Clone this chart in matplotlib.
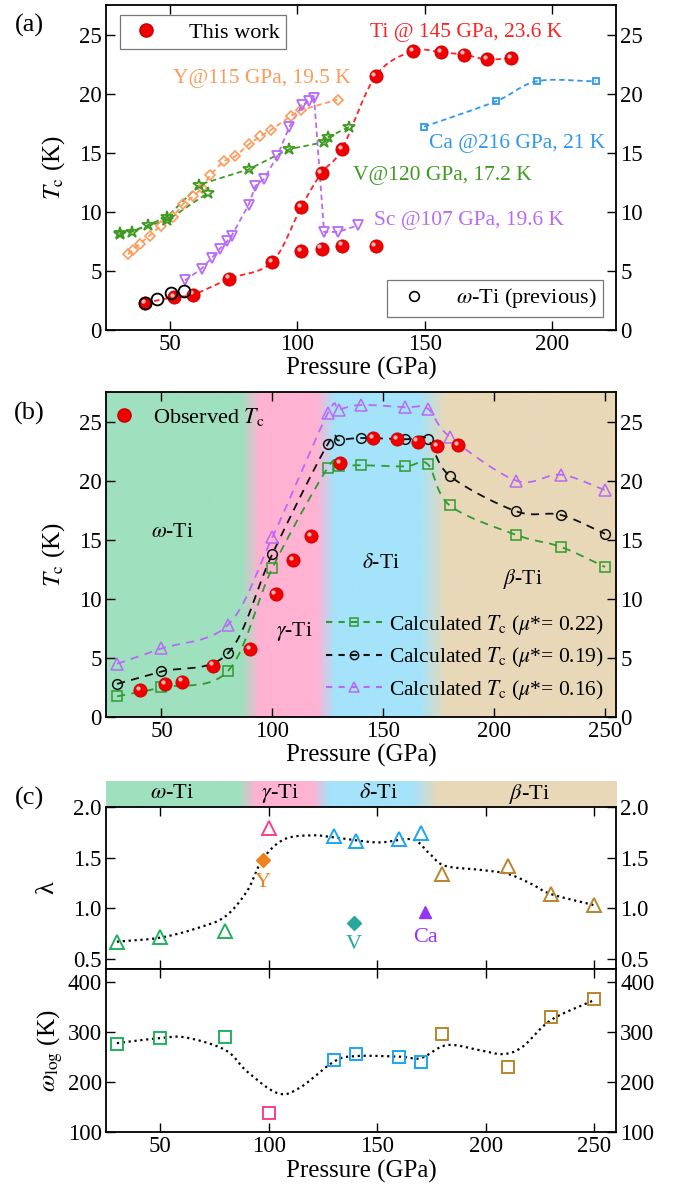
import numpy as np
import matplotlib
matplotlib.use('Agg')
import matplotlib.pyplot as plt
import matplotlib.transforms as mtransforms
from matplotlib.colors import to_rgb
from matplotlib.lines import Line2D

plt.rcParams['font.family'] = 'serif'
plt.rcParams['font.serif'] = ['Liberation Serif', 'DejaVu Serif']
plt.rcParams['mathtext.fontset'] = 'stix'
plt.rcParams['font.size'] = 15

# ---------------- data: panel (a) ----------------
ti_p = [40.4, 51.6, 59.2, 73.4, 90.1, 101.5, 109.5, 117.5, 130.7, 145.4, 156.3, 165.5, 174.3, 183.8]
ti_tc = [2.3, 2.8, 3.0, 4.35, 5.75, 10.4, 13.3, 15.3, 21.5, 23.6, 23.5, 23.3, 22.9, 23.0]
ti_low_p = [101.5, 109.5, 117.5, 130.7]
ti_low_tc = [6.65, 6.9, 7.15, 7.1]
prev_p = [40.4, 44.9, 50.6, 55.7]
prev_tc = [2.3, 2.65, 3.1, 3.3]

y_p = [33.6, 35.5, 38.2, 42.1, 46.4, 51.3, 55.3, 59.2, 62.5, 65.8, 71.1, 75.7, 80.9, 85.5, 89.5, 97.4, 101.3, 115.8]
y_tc = [6.4, 6.8, 7.3, 8.0, 8.8, 9.6, 10.7, 11.3, 12.0, 13.1, 14.3, 14.7, 15.7, 16.4, 16.9, 18.1, 18.6, 19.5]

v_p = [30.3, 35.0, 41.6, 49.1, 61.6, 80.9, 96.7, 110.5, 111.9, 120.4]
v_tc = [8.2, 8.3, 8.9, 9.6, 12.3, 13.6, 15.3, 15.9, 16.3, 17.2]
v2_p = [30.3, 49.1, 64.9]
v2_tc = [8.1, 9.3, 11.6]

sc_p = [55.9, 62.5, 66.4, 69.7, 72.4, 74.3, 80.9, 83.6, 87.0, 92.1, 96.9, 101.8, 104.6, 106.6, 110.5, 116.0, 123.7]
sc_tc = [4.2, 5.2, 6.1, 6.9, 7.5, 8.0, 10.6, 12.2, 12.8, 14.7, 17.2, 19.0, 19.35, 19.6, 8.3, 8.3, 8.85]

ca_p = [149.7, 177.8, 194.0, 217.1]
ca_tc = [17.2, 19.35, 21.05, 21.05]

# ---------------- data: panel (b) ----------------
calc_p = [30, 50, 80, 100, 125, 130, 140, 160, 170, 180, 210, 230, 250]
tc_mu22 = [1.75, 2.5, 3.9, 12.6, 21.1, 21.2, 21.3, 21.2, 21.4, 17.9, 15.4, 14.4, 12.7]
tc_mu19 = [2.8, 3.85, 5.4, 13.8, 23.1, 23.4, 23.6, 23.5, 23.5, 20.4, 17.4, 17.1, 15.5]
tc_mu16 = [4.5, 5.8, 7.8, 15.2, 25.7, 26.0, 26.4, 26.2, 26.1, 23.7, 20.0, 20.5, 19.2]

# ---------------- data: panel (c) ----------------
lam_w_p, lam_w = [30, 50, 80], [0.67, 0.72, 0.78]
lam_g_p, lam_g = [100], [1.79]
lam_d_p, lam_d = [130, 140, 160, 170], [1.71, 1.66, 1.68, 1.74]
lam_b_p, lam_b = [180, 210, 230, 250], [1.34, 1.42, 1.14, 1.03]
lam_fit_p = [30, 50, 68, 80, 90, 97, 107, 120, 130, 150, 166, 174, 181, 197, 210, 221, 230, 250]
lam_fit = [0.67, 0.71, 0.81, 0.92, 1.17, 1.48, 1.68, 1.72, 1.70, 1.65, 1.68, 1.54, 1.42, 1.38, 1.34, 1.24, 1.14, 1.03]
lam_y = (97.1, 1.48)
lam_v = (139.3, 0.85)
lam_ca = (172.0, 0.96)

wlog_w_p, wlog_w = [30, 50, 80], [276, 287, 289]
wlog_g_p, wlog_g = [100], [137]
wlog_d_p, wlog_d = [130, 140, 160, 170], [243, 255, 250, 240]
wlog_b_p, wlog_b = [180, 210, 230, 250], [295, 230, 330, 365]
wlog_fit_p = [30, 50, 62, 80, 90, 104, 114, 130, 140, 160, 170, 182, 197, 208, 217, 230, 250]
wlog_fit = [277, 287, 288, 263, 220, 177, 187, 240, 251, 250, 247, 273, 263, 255, 270, 323, 363]

phase_names = [r'$\omega$-Ti', r'$\gamma$-Ti', r'$\delta$-Ti', r'$\beta$-Ti']

TICK = 16.5
LAB = 18
TXT = 15.5


def smooth(x, y, n=24):
    # Catmull-Rom curve through the points
    x = np.asarray(x, float)
    y = np.asarray(y, float)
    px = np.concatenate([[2 * x[0] - x[1]], x, [2 * x[-1] - x[-2]]])
    py = np.concatenate([[2 * y[0] - y[1]], y, [2 * y[-1] - y[-2]]])
    t = np.linspace(0, 1, n, endpoint=False)
    xs, ys = [], []
    for i in range(1, len(px) - 2):
        for arr, out in ((px, xs), (py, ys)):
            p0, p1, p2, p3 = arr[i - 1], arr[i], arr[i + 1], arr[i + 2]
            out.append(0.5 * (2 * p1 + (-p0 + p2) * t + (2 * p0 - 5 * p1 + 4 * p2 - p3) * t ** 2
                              + (-p0 + 3 * p1 - 3 * p2 + p3) * t ** 3))
    xs.append([x[-1]])
    ys.append([y[-1]])
    return np.concatenate(xs), np.concatenate(ys)


def spheres(ax, x, y, ms=9.5, zorder=5):
    ax.plot(x, y, 'o', ms=ms, mfc='#f00000', mec='#c80000', mew=0.6, zorder=zorder)
    off = mtransforms.offset_copy(ax.transData, fig=fig, x=-ms * 0.17, y=ms * 0.17, units='points')
    ax.plot(x, y, 'o', ms=ms * 0.32, mfc='#ffb8b8', mec='none', transform=off, zorder=zorder + 0.1)


def phase_bg(ax, x0, x1, y0, y1):
    stops = [25, 86, 94, 120, 128, 166, 178, 260]
    cols = ['#9fe0bf', '#9fe0bf', '#ffb2d2', '#ffb2d2', '#a4e3fa', '#a4e3fa', '#e8d8b8', '#e8d8b8']
    rgb = np.array([to_rgb(c) for c in cols])
    xx = np.linspace(x0, x1, 600)
    img = np.stack([np.interp(xx, stops, rgb[:, k]) for k in range(3)], axis=-1)[None, :, :]
    ax.imshow(img, extent=[x0, x1, y0, y1], aspect='auto', zorder=0, interpolation='bilinear')


def style_axes(ax):
    ax.tick_params(direction='in', length=6.5, width=1.0, top=True, right=True,
                   labelright=True, labelsize=TICK, pad=3)
    for s in ax.spines.values():
        s.set_linewidth(1.3)


fig = plt.figure(figsize=(6.81, 11.95), dpi=100)
W = 0.749

# ================= panel (a) =================
ax = fig.add_axes([0.1557, 0.7238, W, 0.272])
c_ti, c_y, c_v, c_sc, c_ca = '#ff2222', '#ff9a5c', '#3f9a22', '#b86af6', '#3097f0'

sx, sy = smooth(ti_p, ti_tc)
ax.plot(sx, sy, '--', color=c_ti, lw=1.3, dashes=(3, 2), zorder=3)
ax.plot(y_p, y_tc, '--', color=c_y, lw=1.3, dashes=(3, 2), zorder=2)
ax.plot(y_p, y_tc, 'D', ms=5.5, mfc='none', mec=c_y, mew=1.2, zorder=3)
ax.plot(v_p, v_tc, '--', color=c_v, lw=1.3, dashes=(3, 2), zorder=2)
ax.plot(v2_p, v2_tc, '--', color=c_v, lw=1.3, dashes=(3, 2), zorder=2)
ax.plot(v_p + v2_p, v_tc + v2_tc, '*', ms=9, mfc='none', mec=c_v, mew=1.3, zorder=3)
ax.plot(sc_p, sc_tc, '--', color=c_sc, lw=1.3, dashes=(3, 2), zorder=2)
ax.plot(sc_p, sc_tc, 'v', ms=7.5, mfc='none', mec=c_sc, mew=1.3, zorder=3)
cx, cy = smooth(ca_p, ca_tc)
ax.plot(cx, cy, '--', color=c_ca, lw=1.3, dashes=(3, 2), zorder=2)
ax.plot(ca_p, ca_tc, 's', ms=5, mfc='none', mec=c_ca, mew=1.3, zorder=3)
spheres(ax, ti_p, ti_tc)
spheres(ax, ti_low_p, ti_low_tc)
ax.plot(prev_p, prev_tc, 'o', ms=8.5, mfc='none', mec='black', mew=1.3, zorder=6)

ax.text(166, 25.2, 'Ti @ 145 GPa, 23.6 K', color=c_ti, ha='center', va='center', fontsize=TXT)
ax.text(86, 21.3, 'Y@115 GPa, 19.5 K', color=c_y, ha='center', va='center', fontsize=TXT)
ax.text(186, 15.8, 'Ca @216 GPa, 21 K', color=c_ca, ha='center', va='center', fontsize=TXT)
ax.text(157, 13.1, 'V@120 GPa, 17.2 K', color=c_v, ha='center', va='center', fontsize=TXT)
ax.text(167.5, 9.3, 'Sc @107 GPa, 19.6 K', color=c_sc, ha='center', va='center', fontsize=TXT)

ax.set_xlim(25, 225)
ax.set_ylim(0, 27.5)
ax.set_xticks([50, 100, 150, 200])
ax.set_yticks([0, 5, 10, 15, 20, 25])
ax.set_ylabel(r'$T_{\rm c}$ (K)', fontsize=LAB, labelpad=9)
ax.set_xlabel('Pressure (GPa)', fontsize=LAB, labelpad=1)
style_axes(ax)

h1 = Line2D([], [], ls='none', marker='o', ms=9.5, mfc='#f00000', mec='#c80000')
leg1 = ax.legend([h1], ['This work'], loc='upper left', bbox_to_anchor=(0.027, 0.968),
                 borderaxespad=0, fancybox=False, edgecolor='#555555', fontsize=TXT + 0.5,
                 handletextpad=1.0, borderpad=0.3, handlelength=1.8)
leg1.get_frame().set_linewidth(0.9)
ax.add_artist(leg1)
h2 = Line2D([], [], ls='none', marker='o', ms=7, mfc='none', mec='black', mew=1.2)
leg2 = ax.legend([h2], [r'$\omega$-Ti (previous)'], loc='lower right', bbox_to_anchor=(0.975, 0.04),
                 borderaxespad=0, fancybox=False, edgecolor='#555555', fontsize=TXT + 0.5,
                 handletextpad=1.0, borderpad=0.3, handlelength=1.8)
leg2.get_frame().set_linewidth(0.9)

# ================= panel (b) =================
ax = fig.add_axes([0.1557, 0.4000, W, 0.272])
phase_bg(ax, 25, 255, 0, 27.5)
c22, c19, c16 = '#2f9a2f', '#111111', '#b86af6'
for vals, col, mk, ms in ((tc_mu22, c22, 's', 6.5), (tc_mu19, c19, 'o', 7), (tc_mu16, c16, '^', 8)):
    bx, by = smooth(calc_p, vals)
    ax.plot(bx, by, '--', color=col, lw=1.3, dashes=(4.5, 3.5), zorder=2)
    ax.plot(calc_p, vals, mk, ms=ms, mfc='none', mec=col, mew=1.1, zorder=3)
spheres(ax, ti_p, ti_tc)
ax.text(55, 15.6, phase_names[0], ha='center', va='center', fontsize=TXT)
ax.text(110, 7.2, phase_names[1], ha='center', va='center', fontsize=TXT)
ax.text(149, 13.0, phase_names[2], ha='center', va='center', fontsize=TXT)
ax.text(213, 11.7, phase_names[3], ha='center', va='center', fontsize=TXT)
ax.set_xlim(25, 255)
ax.set_ylim(0, 27.5)
ax.set_xticks([50, 100, 150, 200, 250])
ax.set_yticks([0, 5, 10, 15, 20, 25])
ax.set_ylabel(r'$T_{\rm c}$ (K)', fontsize=LAB, labelpad=9)
ax.set_xlabel('Pressure (GPa)', fontsize=LAB, labelpad=1)
style_axes(ax)

leg3 = ax.legend([h1], [r'Observed $T_{\rm c}$'], loc='upper left', bbox_to_anchor=(-0.012, 0.985),
                 frameon=False, fontsize=TXT + 0.5, handletextpad=0.6, handlelength=1.4, borderaxespad=0)
ax.add_artist(leg3)
hands = [Line2D([], [], ls='--', dashes=(3, 3), color=c22, marker='s', ms=6, mfc='none', mew=1.1),
         Line2D([], [], ls='--', dashes=(3, 3), color=c19, marker='o', ms=6, mfc='none', mew=1.1),
         Line2D([], [], ls='--', dashes=(3, 3), color=c16, marker='^', ms=7, mfc='none', mew=1.1)]
labs = [r'Calculated $T_{\rm c}$ ($\mu$*= 0.22)', r'Calculated $T_{\rm c}$ ($\mu$*= 0.19)',
        r'Calculated $T_{\rm c}$ ($\mu$*= 0.16)']
ax.legend(hands, labs, loc='lower right', bbox_to_anchor=(1.005, 0.0), frameon=False, fontsize=TXT,
          handlelength=2.6, handletextpad=0.3, labelspacing=0.4, borderaxespad=0.3)

# ================= panel (c) =================
band = fig.add_axes([0.1557, 0.3247, W, 0.0220])
phase_bg(band, 25, 260, 0, 1)
band.set_xlim(25, 260)
band.set_ylim(0, 1)
band.set_xticks([])
band.set_yticks([])
for s in band.spines.values():
    s.set_visible(False)
for px_, nm in zip([55.4, 105.2, 150.5, 220.3], phase_names):
    band.text(px_, 0.5, nm, ha='center', va='center', fontsize=TXT + 0.5)

cw, cg, cd, cb = '#20b35e', '#ff3d8c', '#1aa6f0', '#b8862c'

axl = fig.add_axes([0.1557, 0.1891, W, 0.1356])
lx, ly = smooth(lam_fit_p, lam_fit)
axl.plot(lx, ly, ':', color='black', lw=1.6, zorder=2)
for xs_, ys_, col in ((lam_w_p, lam_w, cw), (lam_g_p, lam_g, cg), (lam_d_p, lam_d, cd), (lam_b_p, lam_b, cb)):
    axl.plot(xs_, ys_, '^', ms=10, mfc='none', mec=col, mew=1.4, zorder=3)
axl.plot(*lam_y, 'D', ms=7.5, color='#f0821e', zorder=4)
axl.text(lam_y[0], 1.25, 'Y', color='#f0821e', ha='center', va='center', fontsize=TXT + 0.5)
axl.plot(*lam_v, 'D', ms=7.5, color='#26a89c', zorder=4)
axl.text(lam_v[0], 0.64, 'V', color='#26a89c', ha='center', va='center', fontsize=TXT + 0.5)
axl.plot(*lam_ca, '^', ms=9, color='#9434f5', zorder=4)
axl.text(lam_ca[0], 0.71, 'Ca', color='#9434f5', ha='center', va='center', fontsize=TXT + 0.5)
axl.set_xlim(25, 260)
axl.set_ylim(0.4, 2.0)
axl.set_xticks([50, 100, 150, 200, 250])
axl.set_yticks([0.5, 1.0, 1.5, 2.0])
axl.set_yticklabels(['0.5', '1.0', '1.5', '2.0'])
axl.set_ylabel('λ', fontsize=LAB + 1, labelpad=11)
style_axes(axl)
axl.tick_params(labelbottom=False)

axw = fig.add_axes([0.1557, 0.0530, W, 0.1361])
wx, wy = smooth(wlog_fit_p, wlog_fit)
axw.plot(wx, wy, ':', color='black', lw=1.6, zorder=2)
for xs_, ys_, col in ((wlog_w_p, wlog_w, cw), (wlog_g_p, wlog_g, cg), (wlog_d_p, wlog_d, cd), (wlog_b_p, wlog_b, cb)):
    axw.plot(xs_, ys_, 's', ms=9, mfc='none', mec=col, mew=1.4, zorder=3)
axw.set_xlim(25, 260)
axw.set_ylim(100, 425)
axw.set_xticks([50, 100, 150, 200, 250])
axw.set_yticks([100, 200, 300, 400])
axw.set_ylabel(r'$\omega_{\rm log}$ (K)', fontsize=LAB, labelpad=2)
axw.set_xlabel('Pressure (GPa)', fontsize=LAB, labelpad=2)
style_axes(axw)

fig.text(0.043, 1 - 25 / 1195, '(a)', ha='center', va='center', fontsize=19)
fig.text(0.043, 1 - 413 / 1195, '(b)', ha='center', va='center', fontsize=19)
fig.text(0.043, 1 - 798 / 1195, '(c)', ha='center', va='center', fontsize=19)

fig.savefig('out.png', dpi=100)
